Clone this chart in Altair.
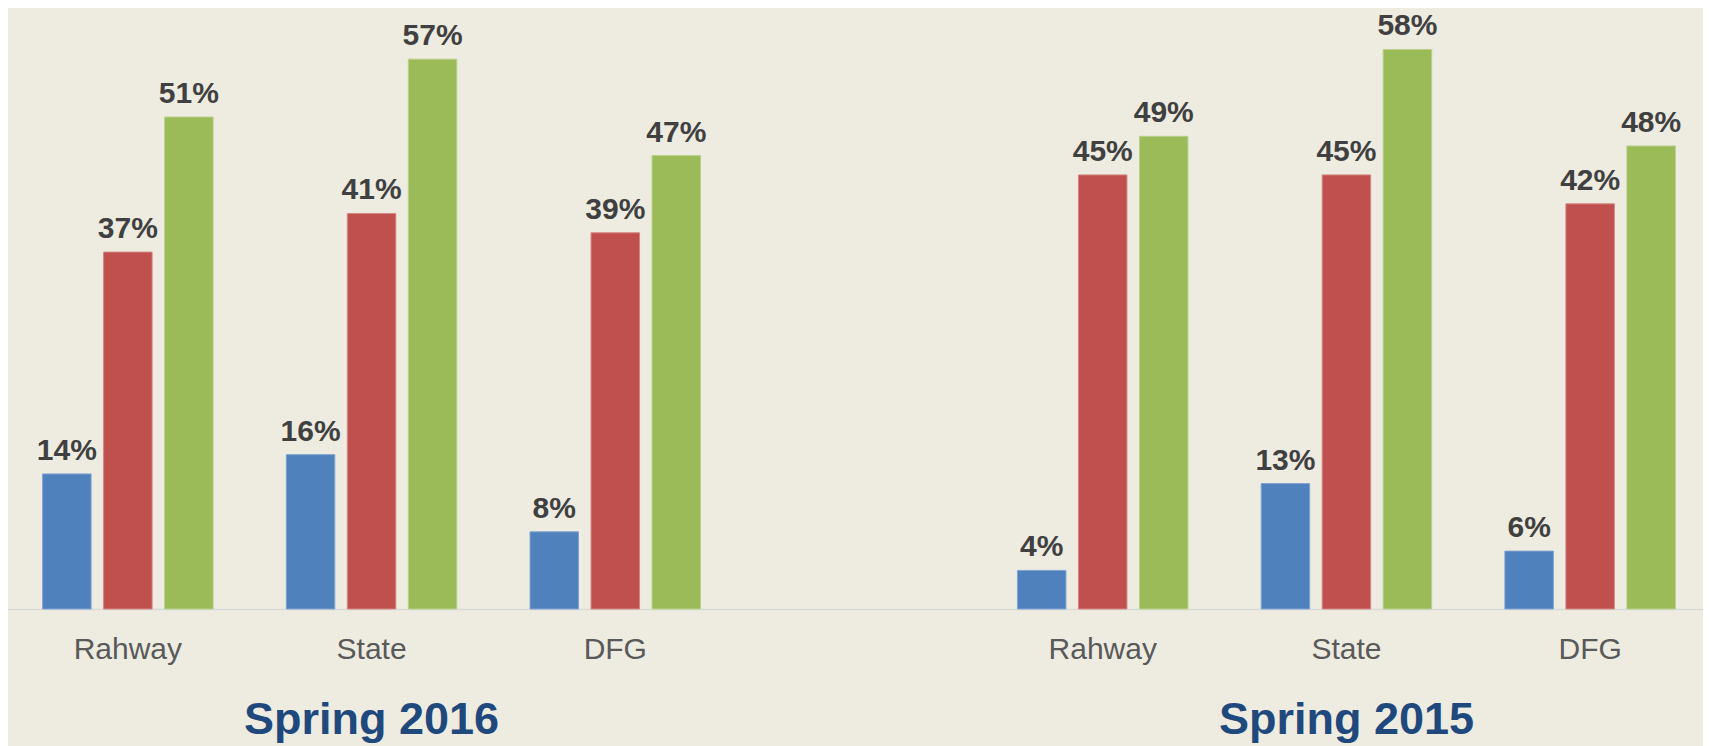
import altair as alt
import pandas as pd

# ---- data ----
slots = ["Rahway|2016", "State|2016", "DFG|2016", "gap", "Rahway|2015", "State|2015", "DFG|2015"]
series = ["Series 1", "Series 2", "Series 3"]
series_colors = ["#4F81BD", "#C0504D", "#9BBB59"]
series_edges = ["#7FA3D0", "#D48683", "#B9D08A"]

rahway_2016 = [14, 37, 51]
state_2016 = [16, 41, 57]
dfg_2016 = [8, 39, 47]
rahway_2015 = [4, 45, 49]
state_2015 = [13, 45, 58]
dfg_2015 = [6, 42, 48]

period_titles = ["Spring 2016", "Spring 2015"]
title_slots = ["State|2016", "State|2015"]

groups = {
    "Rahway|2016": rahway_2016,
    "State|2016": state_2016,
    "DFG|2016": dfg_2016,
    "Rahway|2015": rahway_2015,
    "State|2015": state_2015,
    "DFG|2015": dfg_2015,
}

rows = []
for slot, vals in groups.items():
    for s, v in zip(series, vals):
        rows.append({"slot": slot, "series": s, "value": v, "label": f"{v}%"})
df = pd.DataFrame(rows)
titles_df = pd.DataFrame({"slot": title_slots, "title": period_titles})

H = 601
W = 1695

x_enc = alt.X(
    "slot:N",
    sort=slots,
    scale=alt.Scale(domain=slots, range=[-2, 1704], paddingInner=0, paddingOuter=0),
    axis=alt.Axis(
        title=None,
        labelExpr="datum.label == 'gap' ? '' : split(datum.label, '|')[0]",
        ticks=False,
        tickSize=0,
        grid=False,
        domainColor="#D9D9D9",
        domainWidth=1.5,
        labelFont="Liberation Sans",
        labelFontSize=30,
        labelColor="#595959",
        labelBaseline="alphabetic",
        labelPadding=49,
        labelAngle=0,
    ),
)
xoff = alt.XOffset("series:N", sort=series, scale=alt.Scale(paddingInner=0.205, paddingOuter=0.6))
y_enc = alt.Y("value:Q", scale=alt.Scale(domain=[0, 62.3], nice=False, zero=True), axis=None)
color_enc = alt.Color("series:N", sort=series, scale=alt.Scale(domain=series, range=series_colors), legend=None)
stroke_enc = alt.Stroke("series:N", sort=series, scale=alt.Scale(domain=series, range=series_edges), legend=None)

bars = alt.Chart(df).mark_bar(strokeWidth=1).encode(
    x=x_enc, xOffset=xoff, y=y_enc, color=color_enc, stroke=stroke_enc
)

labels = alt.Chart(df).mark_text(
    font="Liberation Sans", fontSize=30, fontWeight="bold", color="#404040",
    baseline="alphabetic", align="center", dy=-14,
).encode(x=x_enc, xOffset=xoff, y=y_enc, text="label:N")

titles = alt.Chart(titles_df).mark_text(
    font="Liberation Sans", fontSize=45, fontWeight="bold", color="#1F497D",
    baseline="alphabetic", align="center",
).encode(x=alt.X("slot:N", sort=slots, scale=alt.Scale(domain=slots, range=[-2, 1704])), y=alt.value(726), text="title:N")

chart = alt.layer(bars, labels, titles).properties(
    width=W,
    height=H,
    background="#EEECE1",
    autosize=alt.AutoSizeParams(type="none"),
    padding={"left": 0, "top": 0, "right": 0, "bottom": 137},
).configure_view(stroke=None)

chart.save("out.html", embed_options={"renderer": "svg", "actions": False})
